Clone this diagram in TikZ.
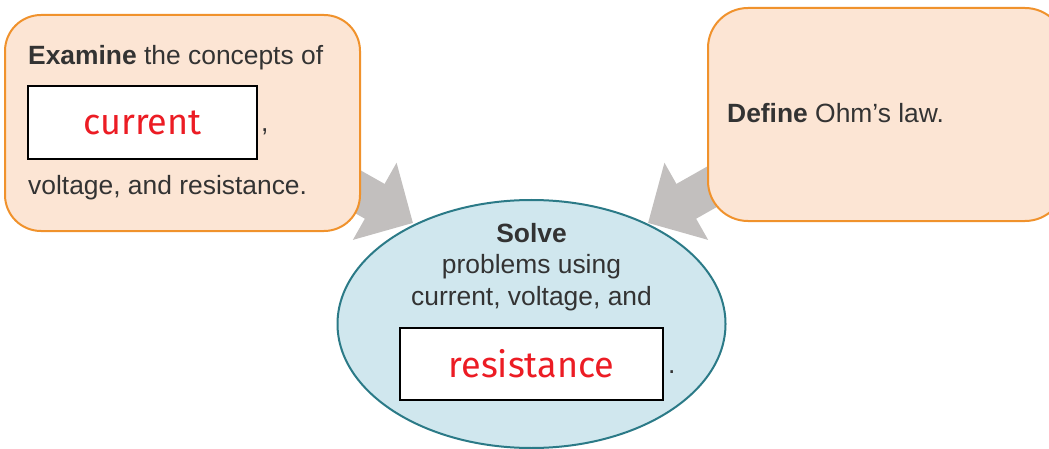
\documentclass[tikz,border=0pt]{standalone}
\usepackage{fontspec}
\setmainfont{Liberation Sans}
\newfontfamily\handfont{Fira Sans}
\usetikzlibrary{arrows.meta,shapes.geometric}
\definecolor{boxfill}{HTML}{FCE5D4}
\definecolor{boxline}{HTML}{F0922C}
\definecolor{ovalfill}{HTML}{D0E7EE}
\definecolor{ovalline}{HTML}{2B7A87}
\definecolor{arrowgray}{HTML}{C2BFBE}
\definecolor{textgray}{HTML}{333333}
\definecolor{wordred}{HTML}{EC1C24}
\begin{document}
\begin{tikzpicture}[x=1pt,y=-1pt,
  goalbox/.style={draw=boxline, fill=boxfill, line width=2pt, rounded corners=36pt,
    inner sep=0pt, rectangle},
  oval/.style={ellipse, draw=ovalline, fill=ovalfill, line width=2pt, inner sep=0pt},
  bigarrow/.style={draw=arrowgray, line width=40pt,
    -{Triangle[length=44pt,width=86pt,fill=arrowgray]}},
  answerbox/.style={draw=black, line width=2pt, fill=white, inner sep=0pt,
    text=wordred, font=\handfont\fontsize{36}{40}\selectfont},
  body/.style={text=textgray, font=\fontsize{26.4}{30}\selectfont, inner sep=0pt},
  lefttext/.style={body, anchor=base west},
  midtext/.style={body, anchor=base}]
\useasboundingbox (0,0) rectangle (1049,449);

% central goal
\node[oval, minimum width=388pt, minimum height=248pt] (solve) at (531.5,324) {};

% arrows from the two goals into the central one
\coordinate (ltip) at (413,223);
\coordinate (lstart) at (300,159);
\coordinate (rtip) at (648,223);
\coordinate (rstart) at (761,159);
\draw[bigarrow] (lstart) -- (ltip);
\draw[bigarrow] (rstart) -- (rtip);

% left goal
\node[goalbox, minimum width=355pt, minimum height=216pt] (examine) at (182.5,123) {};
\node[lefttext] (ex1) at (28,65) {\textbf{Examine} the concepts of};
\node[answerbox, minimum width=229pt, minimum height=73pt] (current) at (142.5,122.5) {current};
\node[lefttext] (comma) at (261,132) {,};
\node[lefttext] (ex2) at (28,195) {voltage, and resistance.};

% right goal
\node[goalbox, rounded corners=40pt, minimum width=357pt, minimum height=213pt] (define) at (886.5,114.5) {};
\node[lefttext] (def) at (727,123) {\textbf{Define} Ohm’s law.};

% text of the central goal
\node[midtext] (s1) at (531.5,242) {\textbf{Solve}};
\node[midtext] (s2) at (531.5,273) {problems using};
\node[midtext] (s3) at (531.5,305) {current, voltage, and};
\node[answerbox, minimum width=263pt, minimum height=72pt] (resist) at (531.5,364) {resistance};
\node[lefttext] (dot) at (668,373) {.};
\end{tikzpicture}
\end{document}
